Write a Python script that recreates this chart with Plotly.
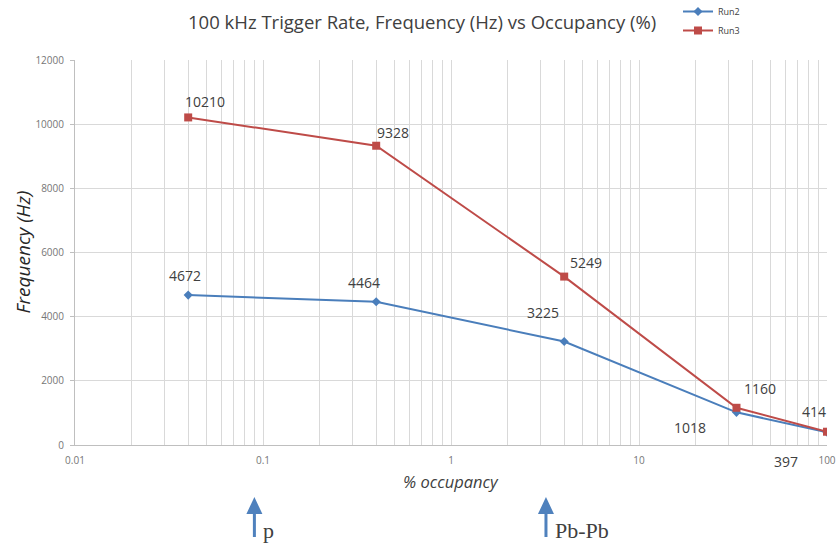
import numpy as np
import plotly.graph_objects as go

# Occupancy (%) for each measurement point
occupancy = [0.04, 0.4, 4, 33, 100]

# Trigger frequency (Hz) per run
run2_freq = [4672, 4464, 3225, 1018, 397]
run3_freq = [10210, 9328, 5249, 1160, 414]

series_names = ["Run2", "Run3"]

# Axis ticks
x_decades = [0.01, 0.1, 1, 10, 100]
x_decade_labels = ["0.01", "0.1", "1", "10", "100"]
y_ticks = [0, 2000, 4000, 6000, 8000, 10000, 12000]

# Collision-system markers below the axis (occupancy, label)
system_marks = [(0.09, "p"), (3.2, "Pb-Pb")]

title_text = "100 kHz Trigger Rate, Frequency (Hz) vs Occupancy (%)"
x_title = "% occupancy"
y_title = "Frequency (Hz)"

BLUE = "#4A7EBB"
RED = "#BE4B48"
GRID = "#D9D9D9"
AXIS = "#BFBFBF"
TXT = "#404040"
TICK = "#767676"
ARROW = "#4F81BD"

W, H = 837, 543
M_L, M_R, M_T, M_B = 75, 10, 60, 98

fig = go.Figure()
fig.add_trace(go.Scatter(
    x=occupancy, y=run2_freq, name=series_names[0], mode="lines+markers",
    line=dict(color=BLUE, width=2),
    marker=dict(symbol="diamond", size=7, color=BLUE),
))
fig.add_trace(go.Scatter(
    x=occupancy, y=run3_freq, name=series_names[1], mode="lines+markers",
    line=dict(color=RED, width=2),
    marker=dict(symbol="square", size=8, color=RED),
))

# Value labels, with pixel offsets from each point
run2_offsets = [(-3, 20), (-12, 19), (-21, 29), (-46, -15), (-41, -29)]
run3_offsets = [(17, 16), (17, 13), (22, 14), (24, 19), (-13, 20)]
for vals, offs in ((run2_freq, run2_offsets), (run3_freq, run3_offsets)):
    for xv, yv, (dx, dy) in zip(occupancy, vals, offs):
        fig.add_annotation(
            x=np.log10(xv), y=yv, xref="x", yref="y", text=str(yv),
            showarrow=False, xshift=dx, yshift=dy,
            font=dict(family="Open Sans", size=14, color=TXT),
        )

# Minor log grid: gridlines at 1..9 within each decade, labels only on decades
tickvals, ticktext = [], []
for d, lab in zip(x_decades, x_decade_labels):
    tickvals.append(d)
    ticktext.append(lab)
    if d != x_decades[-1]:
        for k in range(2, 10):
            tickvals.append(d * k)
            ticktext.append("")

fig.update_xaxes(
    type="log", range=[np.log10(x_decades[0]), np.log10(x_decades[-1])],
    tickmode="array", tickvals=tickvals, ticktext=ticktext,
    showgrid=True, gridcolor=GRID, gridwidth=1,
    showline=True, linecolor=AXIS, linewidth=1,
    ticks="", ticklabelstandoff=6,
    tickfont=dict(family="Open Sans", size=10, color=TICK),
    zeroline=False,
)
fig.update_yaxes(
    range=[y_ticks[0], y_ticks[-1]], tickmode="array", tickvals=y_ticks,
    ticktext=[str(v) for v in y_ticks],
    showgrid=True, gridcolor=GRID, gridwidth=1,
    showline=True, linecolor=AXIS, linewidth=1,
    ticks="outside", ticklen=4, tickcolor=AXIS, ticklabelstandoff=4,
    tickfont=dict(family="Open Sans", size=10, color=TICK),
    zeroline=False,
)

plot_w = W - M_L - M_R
plot_h = H - M_T - M_B


def px_to_paper_x(px):
    return (px - M_L) / plot_w


def px_to_paper_y(py):
    return (H - M_B - py) / plot_h


# Title and axis titles
fig.add_annotation(
    x=px_to_paper_x(422), y=px_to_paper_y(22), xref="paper", yref="paper",
    text=title_text, showarrow=False, xanchor="center", yanchor="middle",
    font=dict(family="Open Sans", size=18.5, color=TXT),
)
fig.add_annotation(
    x=0.5, y=px_to_paper_y(482), xref="paper", yref="paper", text=x_title,
    showarrow=False, xanchor="center", yanchor="middle",
    font=dict(family="Open Sans", size=16.5, color=TXT, style="italic"),
)
fig.add_annotation(
    x=px_to_paper_x(22), y=0.5, xref="paper", yref="paper", text=y_title,
    showarrow=False, textangle=-90, xanchor="center", yanchor="middle",
    font=dict(family="Open Sans", size=19, color="#262626", style="italic"),
)

# Upward arrows marking the collision systems
x_lo, x_hi = np.log10(x_decades[0]), np.log10(x_decades[-1])
for occ, lab in system_marks:
    xp = (np.log10(occ) - x_lo) / (x_hi - x_lo)
    half_w = 8 / plot_w
    tip, base, tail = px_to_paper_y(497), px_to_paper_y(514), px_to_paper_y(537)
    fig.add_shape(type="line", xref="paper", yref="paper",
                  x0=xp, x1=xp, y0=base, y1=tail,
                  line=dict(color=ARROW, width=3))
    fig.add_shape(type="path", xref="paper", yref="paper",
                  path=f"M {xp - half_w} {base} L {xp + half_w} {base} L {xp} {tip} Z",
                  fillcolor=ARROW, line=dict(width=0))
    fig.add_annotation(
        x=xp + 7 / plot_w, y=px_to_paper_y(530), xref="paper", yref="paper",
        text=lab, showarrow=False, xanchor="left", yanchor="middle",
        font=dict(family="Liberation Serif", size=22, color=TXT),
    )

fig.update_layout(
    width=W, height=H,
    margin=dict(l=M_L, r=M_R, t=M_T, b=M_B, autoexpand=False),
    paper_bgcolor="white", plot_bgcolor="white",
    showlegend=True,
    legend=dict(
        x=px_to_paper_x(678), y=px_to_paper_y(-3), xanchor="left", yanchor="top",
        bgcolor="rgba(0,0,0,0)", font=dict(family="Open Sans", size=9, color=TXT),
        itemwidth=30, tracegroupgap=0,
    ),
)

fig.write_html("out.html")
